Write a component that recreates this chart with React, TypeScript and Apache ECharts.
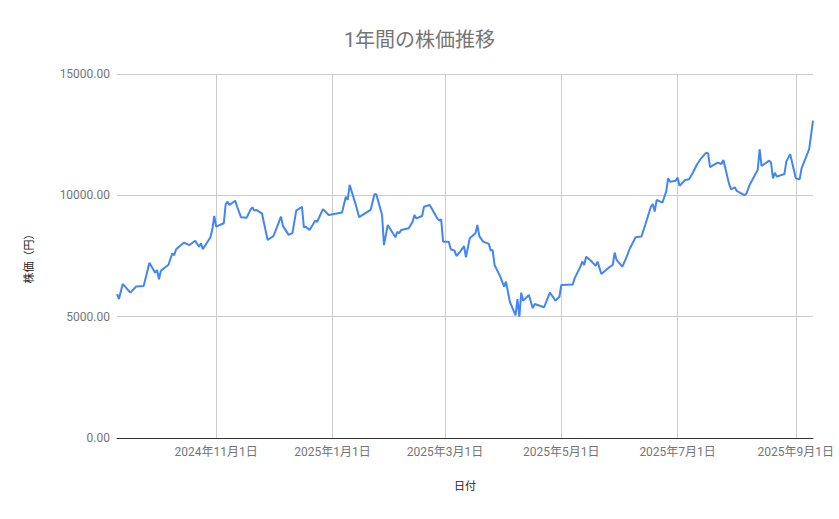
import React, { useEffect, useRef } from "react";
import * as echarts from "echarts";

const titleText = "1年間の株価推移";
const yAxisName = "株価（円）";
const xAxisName = "日付";

const dates: string[] = [
  "2024-09-10", "2024-09-11", "2024-09-13", "2024-09-17", "2024-09-20", "2024-09-24", "2024-09-27", "2024-09-30",
  "2024-10-01", "2024-10-02", "2024-10-03", "2024-10-07", "2024-10-09", "2024-10-10", "2024-10-11", "2024-10-15",
  "2024-10-18", "2024-10-21", "2024-10-23", "2024-10-24", "2024-10-25", "2024-10-29", "2024-10-30", "2024-10-31",
  "2024-11-01", "2024-11-05", "2024-11-06", "2024-11-07", "2024-11-08", "2024-11-11", "2024-11-12", "2024-11-14",
  "2024-11-17", "2024-11-19", "2024-11-20", "2024-11-21", "2024-11-22", "2024-11-25", "2024-11-28", "2024-12-01",
  "2024-12-03", "2024-12-05", "2024-12-06", "2024-12-09", "2024-12-11", "2024-12-13", "2024-12-16", "2024-12-17",
  "2024-12-18", "2024-12-20", "2024-12-23", "2024-12-24", "2024-12-27", "2024-12-30", "2025-01-06", "2025-01-08",
  "2025-01-09", "2025-01-10", "2025-01-13", "2025-01-15", "2025-01-16", "2025-01-21", "2025-01-23", "2025-01-24",
  "2025-01-27", "2025-01-28", "2025-01-30", "2025-02-03", "2025-02-04", "2025-02-05", "2025-02-06", "2025-02-10",
  "2025-02-12", "2025-02-13", "2025-02-14", "2025-02-17", "2025-02-18", "2025-02-21", "2025-02-25", "2025-02-26",
  "2025-02-27", "2025-02-28", "2025-03-03", "2025-03-04", "2025-03-06", "2025-03-07", "2025-03-09", "2025-03-11",
  "2025-03-12", "2025-03-14", "2025-03-17", "2025-03-18", "2025-03-19", "2025-03-21", "2025-03-24", "2025-03-25",
  "2025-03-26", "2025-03-27", "2025-03-30", "2025-04-01", "2025-04-02", "2025-04-04", "2025-04-07", "2025-04-08",
  "2025-04-09", "2025-04-10", "2025-04-11", "2025-04-14", "2025-04-16", "2025-04-17", "2025-04-22", "2025-04-25",
  "2025-04-28", "2025-04-30", "2025-05-01", "2025-05-07", "2025-05-08", "2025-05-11", "2025-05-12", "2025-05-13",
  "2025-05-14", "2025-05-17", "2025-05-19", "2025-05-20", "2025-05-22", "2025-05-26", "2025-05-28", "2025-05-29",
  "2025-05-30", "2025-06-02", "2025-06-04", "2025-06-06", "2025-06-09", "2025-06-12", "2025-06-14", "2025-06-17",
  "2025-06-18", "2025-06-19", "2025-06-20", "2025-06-23", "2025-06-25", "2025-06-26", "2025-06-27", "2025-06-30",
  "2025-07-01", "2025-07-02", "2025-07-05", "2025-07-07", "2025-07-09", "2025-07-11", "2025-07-13", "2025-07-16",
  "2025-07-17", "2025-07-18", "2025-07-22", "2025-07-24", "2025-07-25", "2025-07-28", "2025-07-29", "2025-07-31",
  "2025-08-01", "2025-08-05", "2025-08-06", "2025-08-08", "2025-08-12", "2025-08-13", "2025-08-14", "2025-08-18",
  "2025-08-19", "2025-08-20", "2025-08-21", "2025-08-22", "2025-08-26", "2025-08-27", "2025-08-29", "2025-09-01",
  "2025-09-03", "2025-09-04", "2025-09-08", "2025-09-10",
];

const prices: number[] = [
  5930, 5730, 6350, 5990, 6240, 6260, 7220, 6810,
  6920, 6540, 6890, 7140, 7610, 7530, 7780, 8050,
  7950, 8130, 7880, 8020, 7780, 8270, 8600, 9150,
  8710, 8850, 9640, 9740, 9600, 9780, 9530, 9100,
  9080, 9400, 9510, 9370, 9400, 9260, 8160, 8320,
  8710, 9120, 8740, 8370, 8440, 9370, 9530, 8680,
  8710, 8570, 8960, 8910, 9430, 9190, 9290, 9940,
  9810, 10430, 9670, 9100, 9150, 9400, 10040, 10040,
  9190, 7950, 8780, 8270, 8500, 8440, 8570, 8640,
  8910, 9190, 9050, 9150, 9530, 9600, 9050, 8960,
  9010, 8090, 8090, 7780, 7720, 7500, 7680, 7910,
  7450, 8230, 8440, 8780, 8320, 8090, 8000, 7720,
  7750, 7130, 6650, 6240, 6440, 5620, 5050, 5720,
  5000, 5990, 5660, 5890, 5350, 5520, 5390, 5990,
  5660, 5820, 6300, 6330, 6580, 7060, 7270, 7130,
  7470, 7270, 7090, 7270, 6760, 7030, 7130, 7640,
  7340, 7060, 7410, 7820, 8270, 8300, 8780, 9530,
  9640, 9330, 9810, 9700, 10150, 10700, 10560, 10600,
  10740, 10390, 10630, 10660, 10930, 11250, 11490, 11760,
  11730, 11160, 11350, 11290, 11460, 10470, 10250, 10330,
  10180, 10010, 10060, 10470, 11040, 11900, 11210, 11430,
  11350, 10700, 10930, 10770, 10880, 11390, 11700, 10700,
  10660, 11110, 11900, 13080,
];

const xMin = "2024-09-10";
const xMax = "2025-09-10";
const xTickDates: string[] = ["2024-11-01", "2025-01-01", "2025-03-01", "2025-05-01", "2025-07-01", "2025-09-01"];

const yMin = 0;
const yMax = 15000;
const yInterval = 5000;

const FONT = "Roboto, 'Noto Sans CJK JP', 'Noto Sans', sans-serif";

function toTs(s: string): number {
  const [y, m, d] = s.split("-").map(Number);
  return new Date(y, m - 1, d).getTime();
}

export default function App() {
  const ref = useRef<HTMLDivElement>(null);

  useEffect(() => {
    if (!ref.current) return;
    const chart = echarts.init(ref.current, null, { renderer: "svg" });
    const seriesData = dates.map((d, i) => [toTs(d), prices[i]]);
    const tickVals = xTickDates.map(toTs);

    chart.setOption({
      animation: false,
      backgroundColor: "#ffffff",
      textStyle: { fontFamily: FONT },
      title: {
        text: titleText,
        left: "center",
        top: 25,
        textStyle: { fontFamily: FONT, fontSize: 20, fontWeight: "normal", color: "#757575" },
      },
      grid: { left: 117, right: 26, top: 74, bottom: 81, containLabel: false },
      xAxis: {
        type: "value",
        min: toTs(xMin),
        max: toTs(xMax),
        name: xAxisName,
        nameLocation: "middle",
        nameGap: 43,
        nameTextStyle: { fontFamily: FONT, fontSize: 11, color: "#222222" },
        axisLine: { show: true, onZero: false, lineStyle: { color: "#333333", width: 1 } },
        axisTick: { show: false, customValues: tickVals },
        axisLabel: {
          customValues: tickVals,
          fontFamily: FONT,
          fontSize: 12,
          color: "#757575",
          margin: 8,
          formatter: (v: number) => {
            const dt = new Date(v);
            return `${dt.getFullYear()}年${dt.getMonth() + 1}月${dt.getDate()}日`;
          },
        },
        splitLine: { show: true, lineStyle: { color: "#cccccc", width: 1 } },
      },
      yAxis: {
        type: "value",
        min: yMin,
        max: yMax,
        interval: yInterval,
        name: yAxisName,
        nameLocation: "middle",
        nameGap: 82,
        nameRotate: 90,
        nameTextStyle: { fontFamily: FONT, fontSize: 11, color: "#222222" },
        axisLine: { show: false },
        axisTick: { show: false },
        axisLabel: {
          fontFamily: FONT,
          fontSize: 12,
          color: "#757575",
          margin: 7,
          formatter: (v: number) => v.toFixed(2),
        },
        splitLine: { show: true, lineStyle: { color: "#cccccc", width: 1 } },
      },
      series: [
        {
          type: "line",
          data: seriesData,
          showSymbol: false,
          symbol: "none",
          lineStyle: { color: "#4285f4", width: 2 },
          itemStyle: { color: "#4285f4" },
        },
      ],
    });
    return () => chart.dispose();
  }, []);

  return (
    <div
      ref={ref}
      style={{ position: "fixed", left: 0, top: 0, width: 839, height: 519, background: "#fff" }}
    />
  );
}
